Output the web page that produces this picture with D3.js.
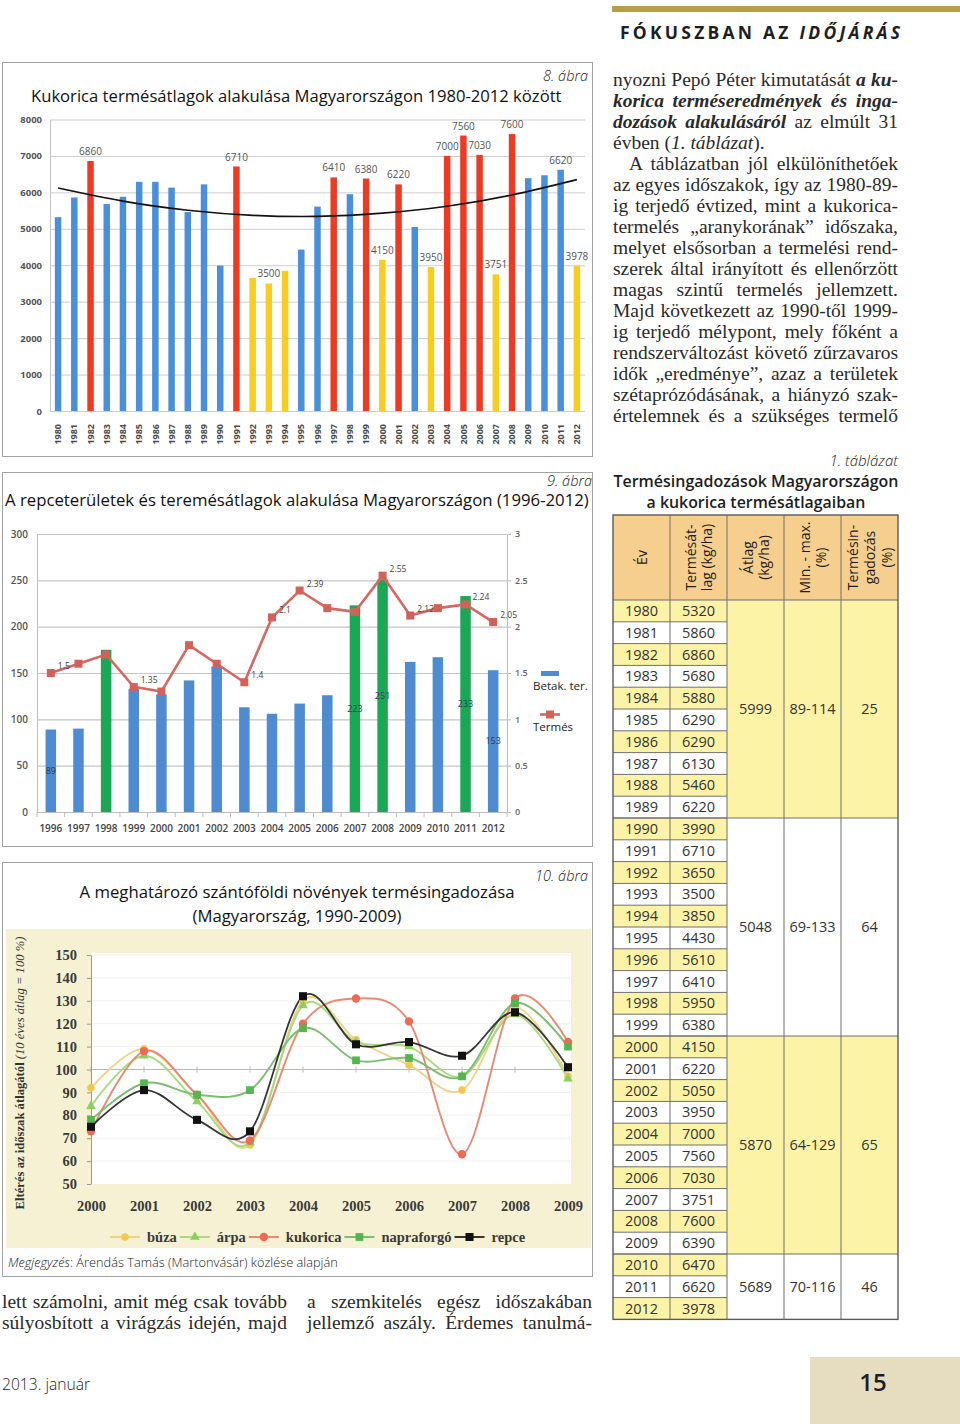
<!DOCTYPE html>
<html lang="hu"><head><meta charset="utf-8"><title>Kukorica termésátlagok</title>
<script src="https://cdn.jsdelivr.net/npm/d3@7/dist/d3.min.js"></script>
<style>html,body{margin:0;padding:0;background:#fff}svg{display:block}</style>
</head><body>
<svg id="page" width="960" height="1424" xmlns="http://www.w3.org/2000/svg"></svg>
<script>
// ================= DATA =================
// 8. ábra – Kukorica termésátlagok 1980-2012 (kg/ha)
const yearsA = [1980,1981,1982,1983,1984,1985,1986,1987,1988,1989,1990,1991,1992,1993,1994,1995,1996,1997,1998,1999,2000,2001,2002,2003,2004,2005,2006,2007,2008,2009,2010,2011,2012];
const yieldA = [5320,5860,6860,5680,5880,6290,6290,6130,5460,6220,3990,6710,3650,3500,3850,4430,5610,6410,5950,6380,4150,6220,5050,3950,7000,7560,7030,3751,7600,6390,6470,6620,3978];
const classA = ["n","n","h","n","n","n","n","n","n","n","n","h","l","l","l","n","n","h","n","h","l","h","n","l","h","h","h","l","h","n","n","n","l"];
const labelYearsA = [1982,1991,1993,1997,1999,2000,2001,2003,2004,2005,2006,2007,2008,2011,2012];
const yTicksA = [0,1000,2000,3000,4000,5000,6000,7000,8000];
const trendYearsA = [1980,1984,1988,1992,1996,2000,2004,2008,2012];
const trendValsA = [6120,5760,5510,5370,5340,5430,5620,5930,6350];
const titleA = "Kukorica termésátlagok alakulása Magyarországon 1980-2012 között";

// 9. ábra – repce: betakarított terület (ezer ha) és termésátlag (t/ha)
const yearsB = [1996,1997,1998,1999,2000,2001,2002,2003,2004,2005,2006,2007,2008,2009,2010,2011,2012];
const areaB = [89,90,175,133,127,142,157,113,106,117,126,223,251,162,167,233,153];
const greenYearsB = [1998,2007,2008,2011];
const areaLabelYearsB = [1996,2007,2008,2011,2012];
const yieldB = [1.5,1.6,1.7,1.35,1.3,1.8,1.6,1.4,2.1,2.39,2.2,2.16,2.55,2.12,2.2,2.24,2.05];
const yieldLabelsB = ["1.5",null,null,"1.35",null,null,null,"1.4","2.1","2.39",null,null,"2.55","2.12",null,"2.24","2.05"];
const leftTicksB = [0,50,100,150,200,250,300];
const rightTicksB = [0,0.5,1,1.5,2,2.5,3];
const titleB = "A repceterületek és teremésátlagok alakulása Magyarországon (1996-2012)";
const legendB = ["Betak. ter.","Termés"];

// 10. ábra – termésingadozás (10 éves átlag = 100 %)
const yearsC = [2000,2001,2002,2003,2004,2005,2006,2007,2008,2009];
const buzaC = [92,109,89,67,130,113,102,91,127,97];
const arpaC = [84,106,86,68,128,112,110,97,124,96];
const kukoricaC = [73,108,89,69,120,131,121,63,131,112];
const napraforgoC = [78,94,89,91,118,104,105,97,129,110];
const repceC = [75,91,78,73,132,111,112,106,125,101];
const seriesNamesC = ["búza","árpa","kukorica","napraforgó","repce"];
const yTicksC = [50,60,70,80,90,100,110,120,130,140,150];
const titleC = ["A meghatározó szántóföldi növények termésingadozása","(Magyarország, 1990-2009)"];

// 1. táblázat
const groupStart = [1980,1990,2000,2010];
const groupEnd = [1989,1999,2009,2012];
const groupAvg = ["5999","5048","5870","5689"];
const groupMinMax = ["89-114","69-133","64-129","70-116"];
const groupFluct = ["25","64","65","46"];
const tableHead = [["Év"],["Termésát-","lag (kg/ha)"],["Átlag","(kg/ha)"],["Min. - max.","(%)"],["Termésin-","gadozás","(%)"]];

// ================= HELPERS =================
const SANS = "'Open Sans','Noto Sans',sans-serif";
const SERIF = "'Liberation Serif','DejaVu Serif',serif";
const svg = d3.select('#page');

function txt(parent, x, y, s, o = {}) {
  const t = parent.append('text').attr('x', x).attr('y', y)
    .attr('font-family', o.family || SANS).attr('font-size', o.size || 12)
    .attr('fill', o.fill || '#222');
  if (o.anchor) t.attr('text-anchor', o.anchor);
  if (o.weight) t.attr('font-weight', o.weight);
  if (o.style) t.attr('font-style', o.style);
  if (s != null) t.text(s);
  return t;
}
function rich(t, segs) {
  segs.forEach(([s, st]) => {
    const ts = t.append('tspan').text(s);
    if (st.includes('b')) ts.attr('font-weight', 'bold');
    if (st.includes('i')) ts.attr('font-style', 'italic');
  });
  return t;
}
function fitWidth(t, w) {
  const L = t.node().getComputedTextLength();
  t.attr('font-size', (parseFloat(t.attr('font-size')) * w / L).toFixed(2));
  return t;
}
function justify(t, w) {
  const n = t.node(); const L = n.getComputedTextLength();
  const sp = (n.textContent.match(/ /g) || []).length;
  if (sp) t.attr('word-spacing', ((w - L) / sp).toFixed(2));
  return t;
}
function spread(t, w) {
  const n = t.node(); const L = n.getComputedTextLength();
  const c = n.textContent.length;
  t.attr('letter-spacing', ((w - L) / (c - 1)).toFixed(2));
  return t;
}
function styleAxisText(sel, o) {
  sel.selectAll('.tick text').attr('font-family', o.family || SANS).attr('font-size', o.size)
    .attr('font-weight', o.weight || 400).attr('fill', o.fill || '#444');
}

// ================= CHART 8 =================
(function () {
  const g = svg.append('g');
  g.append('rect').attr('x', 2.5).attr('y', 62.5).attr('width', 590).attr('height', 394)
    .attr('fill', '#fff').attr('stroke', '#a3a3a3');
  txt(g, 588, 81, '8. ábra', { anchor: 'end', style: 'italic', size: 14.5, weight: 300 });
  fitWidth(txt(g, 31, 102, titleA, { size: 16, fill: '#111' }), 531);

  const x = d3.scaleBand().domain(yearsA).range([50, 585]).paddingInner(0.6).paddingOuter(0.3);
  const y = d3.scaleLinear().domain([0, 8000]).range([411, 119.5]);
  const colors = { n: '#4a8fd9', h: '#ee3a22', l: '#f8cd1f' };

  const ax = g.append('g').attr('transform', 'translate(50,0)')
    .call(d3.axisLeft(y).tickValues(yTicksA).tickSize(-535).tickSizeOuter(0).tickPadding(8).tickFormat(d3.format('d')));
  ax.select('.domain').attr('stroke', '#c4c4c4');
  ax.selectAll('.tick line').attr('stroke', '#cdcdcd');
  styleAxisText(ax, { size: 9.5, weight: 700, fill: '#555' });

  const bx = g.append('g').attr('transform', 'translate(0,411)')
    .call(d3.axisBottom(x).tickSize(0).tickSizeOuter(0));
  bx.select('.domain').remove();
  styleAxisText(bx, { size: 9, weight: 700, fill: '#4a4a4a' });
  bx.selectAll('.tick text').attr('transform', 'rotate(-90)').attr('x', -13).attr('y', 0)
    .attr('dy', '0.35em').attr('text-anchor', 'end');

  g.append('g').selectAll('rect').data(yearsA).join('rect')
    .attr('x', d => x(d)).attr('width', x.bandwidth())
    .attr('y', (d, i) => y(yieldA[i])).attr('height', (d, i) => y(0) - y(yieldA[i]))
    .attr('fill', (d, i) => colors[classA[i]]);

  g.append('path').datum(trendYearsA.map((yr, i) => [x(yr) + x.bandwidth() / 2, y(trendValsA[i])]))
    .attr('d', d3.line().curve(d3.curveNatural)).attr('fill', 'none').attr('stroke', '#111').attr('stroke-width', 1.6);

  g.append('g').selectAll('text').data(labelYearsA).join('text')
    .attr('x', d => x(d) + x.bandwidth() / 2)
    .attr('y', d => y(yieldA[yearsA.indexOf(d)]) - 6)
    .attr('text-anchor', 'middle').attr('font-family', SANS).attr('font-size', 10)
    .attr('fill', '#555').text(d => yieldA[yearsA.indexOf(d)]);
})();

// ================= CHART 9 =================
(function () {
  const g = svg.append('g');
  g.append('rect').attr('x', 2.5).attr('y', 472.5).attr('width', 590).attr('height', 374)
    .attr('fill', '#fff').attr('stroke', '#a3a3a3');
  txt(g, 592, 486, '9. ábra', { anchor: 'end', style: 'italic', size: 14.5, weight: 300 });
  fitWidth(txt(g, 5, 506, titleB, { size: 16, fill: '#111' }), 584);

  const x = d3.scaleBand().domain(yearsB).range([37, 507]).paddingInner(0.62).paddingOuter(0.31);
  const yL = d3.scaleLinear().domain([0, 300]).range([812, 534]);
  const yR = d3.scaleLinear().domain([0, 3]).range([812, 534]);

  const ax = g.append('g').attr('transform', 'translate(37,0)')
    .call(d3.axisLeft(yL).tickValues(leftTicksB).tickSize(-470).tickSizeOuter(0).tickPadding(9));
  ax.select('.domain').attr('stroke', '#bdbdbd');
  ax.selectAll('.tick line').attr('stroke', '#c6c6c6').attr('stroke-width', 1.2);
  styleAxisText(ax, { size: 10, weight: 600, fill: '#555' });

  const ar = g.append('g').attr('transform', 'translate(507,0)')
    .call(d3.axisRight(yR).tickValues(rightTicksB).tickSize(4).tickSizeOuter(0).tickPadding(4).tickFormat(d3.format('~g')));
  ar.select('.domain').attr('stroke', '#bdbdbd');
  ar.selectAll('.tick line').attr('stroke', '#bdbdbd');
  styleAxisText(ar, { size: 9, weight: 600, fill: '#666' });

  const bx = g.append('g').attr('transform', 'translate(0,812)')
    .call(d3.axisBottom(x).tickSize(0).tickSizeOuter(0).tickPadding(13));
  bx.select('.domain').attr('stroke', '#bdbdbd');
  styleAxisText(bx, { size: 10, weight: 600, fill: '#444' });
  const step = x.step();
  g.append('g').selectAll('line').data(yearsB.concat([null])).join('line')
    .attr('x1', (d, i) => x(yearsB[0]) - step * 0.31 + i * step)
    .attr('x2', (d, i) => x(yearsB[0]) - step * 0.31 + i * step)
    .attr('y1', 812).attr('y2', 817).attr('stroke', '#bdbdbd');

  g.append('g').selectAll('rect').data(yearsB).join('rect')
    .attr('x', d => x(d)).attr('width', x.bandwidth())
    .attr('y', (d, i) => yL(areaB[i])).attr('height', (d, i) => yL(0) - yL(areaB[i]))
    .attr('fill', d => greenYearsB.includes(d) ? '#1aa857' : '#4f8bd0');

  g.append('g').selectAll('text').data(areaLabelYearsB).join('text')
    .attr('x', d => x(d) + x.bandwidth() / 2)
    .attr('y', d => (yL(areaB[yearsB.indexOf(d)]) + yL(0)) / 2 + 3)
    .attr('text-anchor', 'middle').attr('font-family', SANS).attr('font-size', 9)
    .attr('fill', '#2d3a55').text(d => areaB[yearsB.indexOf(d)]);

  const cx = d => x(d) + x.bandwidth() / 2;
  g.append('path').datum(yearsB.map((d, i) => [cx(d), yR(yieldB[i])]))
    .attr('d', d3.line()).attr('fill', 'none').attr('stroke', '#d56861').attr('stroke-width', 2.6);
  g.append('g').selectAll('rect').data(yearsB).join('rect')
    .attr('x', d => cx(d) - 4).attr('y', (d, i) => yR(yieldB[i]) - 4)
    .attr('width', 8).attr('height', 8).attr('fill', '#d4605a');
  g.append('g').selectAll('text').data(yearsB.filter((d, i) => yieldLabelsB[i])).join('text')
    .attr('x', d => cx(d) + 7)
    .attr('y', d => yR(yieldB[yearsB.indexOf(d)]) - 4)
    .attr('font-family', SANS).attr('font-size', 8.5).attr('fill', '#444')
    .text(d => yieldLabelsB[yearsB.indexOf(d)]);

  // legend
  g.append('rect').attr('x', 541).attr('y', 671).attr('width', 18).attr('height', 5).attr('fill', '#4f8bd0');
  txt(g, 533, 690, legendB[0], { size: 11.5, fill: '#222' });
  g.append('line').attr('x1', 540).attr('x2', 560).attr('y1', 714.5).attr('y2', 714.5).attr('stroke', '#d56861').attr('stroke-width', 2.6);
  g.append('rect').attr('x', 546).attr('y', 710.5).attr('width', 8).attr('height', 8).attr('fill', '#d4605a');
  txt(g, 533, 731, legendB[1], { size: 11.5, fill: '#222' });
})();

// ================= CHART 10 =================
(function () {
  const g = svg.append('g');
  g.append('rect').attr('x', 2.5).attr('y', 862.5).attr('width', 590).attr('height', 414)
    .attr('fill', '#fff').attr('stroke', '#a3a3a3');
  txt(g, 588, 881, '10. ábra', { anchor: 'end', style: 'italic', size: 14.5, weight: 300 });
  fitWidth(txt(g, 297, 898, titleC[0], { size: 16, fill: '#111', anchor: 'middle' }), 435);
  fitWidth(txt(g, 297, 922, titleC[1], { size: 16, fill: '#111', anchor: 'middle' }), 209);

  g.append('rect').attr('x', 6).attr('y', 929).attr('width', 585).attr('height', 319).attr('fill', '#f5f1d2');
  g.append('rect').attr('x', 91).attr('y', 953).attr('width', 480).attr('height', 231).attr('fill', '#fff');

  const x = d3.scalePoint().domain(yearsC).range([91, 568]);
  const y = d3.scaleLinear().domain([50, 150]).range([1184, 955]);

  g.append('g').selectAll('line').data(yTicksC.filter(v => v > 50 && v !== 100)).join('line')
    .attr('x1', 91).attr('x2', 570).attr('y1', d => y(d)).attr('y2', d => y(d)).attr('stroke', '#f1f1ec');
  g.append('line').attr('x1', 91).attr('x2', 570).attr('y1', y(100)).attr('y2', y(100)).attr('stroke', '#b9b9c4').attr('stroke-width', 1.2);
  g.append('g').selectAll('line').data(yearsC).join('line')
    .attr('x1', d => x(d)).attr('x2', d => x(d)).attr('y1', y(100) - 3).attr('y2', y(100) + 3).attr('stroke', '#b9b9c4');

  const ax = g.append('g').attr('transform', 'translate(91,0)')
    .call(d3.axisLeft(y).tickValues(yTicksC).tickSize(4).tickSizeOuter(0).tickPadding(10));
  ax.select('.domain').attr('stroke', '#9a9a9a');
  ax.selectAll('.tick line').attr('stroke', '#9a9a9a');
  styleAxisText(ax, { family: SERIF, size: 14.5, weight: 700, fill: '#3a3a3a' });

  const bx = g.append('g').attr('transform', 'translate(0,1184)')
    .call(d3.axisBottom(x).tickSize(0).tickSizeOuter(0).tickPadding(17));
  bx.select('.domain').remove();
  styleAxisText(bx, { family: SERIF, size: 14.5, weight: 700, fill: '#3a3a3a' });

  // y axis title
  const yt = g.append('text').attr('transform', 'translate(24,1073) rotate(-90)')
    .attr('text-anchor', 'middle').attr('font-family', SERIF).attr('font-size', 13).attr('fill', '#333');
  rich(yt, [['Eltérés az időszak átlagától ', 'b'], ['(10 éves átlag = 100 %)', 'i']]);
  fitWidth(yt, 273);

  const seriesC = [buzaC, arpaC, kukoricaC, napraforgoC, repceC];
  const lineCol = ['#ebd37e', '#a8d67c', '#e9836c', '#74bb68', '#2a2a2a'];
  const markCol = ['#f0c94e', '#8dcf5e', '#ee6a52', '#55b54f', '#111111'];
  const markSym = [d3.symbolCircle, d3.symbolTriangle, d3.symbolCircle, d3.symbolSquare, d3.symbolSquare];
  const markSize = [45, 40, 55, 60, 65];
  const line = d3.line().curve(d3.curveCatmullRom.alpha(0));

  seriesC.forEach((vals, s) => {
    const pts = yearsC.map((d, i) => [x(d), y(vals[i])]);
    g.append('path').datum(pts).attr('d', line).attr('fill', 'none')
      .attr('stroke', lineCol[s]).attr('stroke-width', s === 4 ? 1.8 : 1.9).attr('opacity', 0.95);
  });
  seriesC.forEach((vals, s) => {
    g.append('g').selectAll('path').data(yearsC).join('path')
      .attr('transform', (d, i) => `translate(${x(d)},${y(vals[i])})`)
      .attr('d', d3.symbol().type(markSym[s]).size(markSize[s])).attr('fill', markCol[s]);
  });

  // legend
  let lx = 110;
  const ly = 1237;
  seriesNamesC.forEach((name, s) => {
    g.append('line').attr('x1', lx).attr('x2', lx + 30).attr('y1', ly).attr('y2', ly)
      .attr('stroke', lineCol[s]).attr('stroke-width', 1.9);
    g.append('path').attr('transform', `translate(${lx + 15},${ly})`)
      .attr('d', d3.symbol().type(markSym[s]).size(markSize[s])).attr('fill', markCol[s]);
    const t = txt(g, lx + 37, ly + 5, name, { family: SERIF, size: 14.5, weight: 700, fill: '#3a3a3a' });
    lx = lx + 37 + t.node().getComputedTextLength() + 3;
  });

  const note = txt(g, 8, 1267, null, { size: 12.5, weight: 300, fill: '#222' });
  rich(note, [['Megjegyzés', 'i'], [': Árendás Tamás (Martonvásár) közlése alapján', '']]);
  fitWidth(note, 330);
})();

// ================= RIGHT COLUMN: header + text =================
(function () {
  const g = svg.append('g');
  g.append('rect').attr('x', 612).attr('y', 6).attr('width', 348).attr('height', 6).attr('fill', '#b89f45');
  const h = txt(g, 620, 39, null, { size: 17.5, weight: 700, fill: '#1e1e1e' });
  rich(h, [['FÓKUSZBAN AZ ', ''], ['IDŐJÁRÁS', 'i']]);
  spread(h, 280);

  const BODY = 19.5;
  const lines = [
    [[['nyozni Pepó Péter kimutatását ', ''], ['a ku-', 'bi']], true, 0],
    [[['korica terméseredmények és inga-', 'bi']], true, 0],
    [[['dozások alakulásáról', 'bi'], [' az elmúlt 31', '']], true, 0],
    [[['évben (', ''], ['1. táblázat', 'i'], [').', '']], false, 0],
    [[['A táblázatban jól elkülöníthetőek', '']], true, 16],
    [[['az egyes időszakok, így az 1980-89-', '']], true, 0],
    [[['ig terjedő évtized, mint a kukorica-', '']], true, 0],
    [[['termelés „aranykorának” időszaka,', '']], true, 0],
    [[['melyet elsősorban a termelési rend-', '']], true, 0],
    [[['szerek által irányított és ellenőrzött', '']], true, 0],
    [[['magas szintű termelés jellemzett.', '']], true, 0],
    [[['Majd következett az 1990-től 1999-', '']], true, 0],
    [[['ig terjedő mélypont, mely főként a', '']], true, 0],
    [[['rendszerváltozást követő zűrzavaros', '']], true, 0],
    [[['idők „eredménye”, azaz a területek', '']], true, 0],
    [[['szétaprózódásának, a hiányzó szak-', '']], true, 0],
    [[['értelemnek és a szükséges termelő', '']], true, 0]
  ];
  lines.forEach(([segs, just, ind], i) => {
    const t = txt(g, 613 + ind, 86 + i * 21, null, { family: SERIF, size: BODY, fill: '#2a2a2a' });
    rich(t, segs);
    if (just) justify(t, 285 - ind);
  });

  const bottom = [
    [2, 1308, 'lett számolni, amit még csak tovább'],
    [2, 1329, 'súlyosbított a virágzás idején, majd'],
    [307, 1308, 'a szemkitelés egész időszakában'],
    [307, 1329, 'jellemző aszály. Érdemes tanulmá-']
  ];
  bottom.forEach(([bx, by, s]) => {
    justify(txt(g, bx, by, s, { family: SERIF, size: BODY, fill: '#2a2a2a' }), 285);
  });

  fitWidth(txt(g, 2, 1390, '2013. január', { size: 15, weight: 300, fill: '#222' }), 88);
  g.append('rect').attr('x', 810).attr('y', 1357).attr('width', 150).attr('height', 67).attr('fill', '#e6dcc0');
  txt(g, 873, 1391, '15', { size: 24, weight: 600, fill: '#1e1e1e', anchor: 'middle' });
})();

// ================= TABLE =================
(function () {
  const g = svg.append('g');
  txt(g, 898, 466, '1. táblázat', { anchor: 'end', style: 'italic', size: 15, weight: 300, fill: '#222' });
  fitWidth(txt(g, 756, 487, 'Termésingadozások Magyarországon', { size: 15.5, weight: 600, anchor: 'middle', fill: '#1e1e1e' }), 285);
  fitWidth(txt(g, 756, 508, 'a kukorica termésátlagaiban', { size: 15.5, weight: 600, anchor: 'middle', fill: '#1e1e1e' }), 219);

  const colX = [613, 670, 727, 784, 841, 898];
  const headTop = 515, rowTop = 600, rowH = 21.8;
  const ry = d3.scaleLinear().domain([0, yearsA.length]).range([rowTop, rowTop + rowH * yearsA.length]);
  const bottomY = ry(yearsA.length);
  const yellow = '#fdf3a6', head = '#f6cf8f', lineC = '#6f6f6f';

  g.append('rect').attr('x', colX[0]).attr('y', headTop).attr('width', colX[5] - colX[0]).attr('height', rowTop - headTop).attr('fill', head);
  g.append('g').selectAll('rect').data(yearsA).join('rect')
    .attr('x', colX[0]).attr('y', (d, i) => ry(i)).attr('width', colX[2] - colX[0]).attr('height', rowH)
    .attr('fill', (d, i) => i % 2 === 0 ? yellow : '#fff');
  g.append('g').selectAll('rect').data(groupStart).join('rect')
    .attr('x', colX[2]).attr('width', colX[5] - colX[2])
    .attr('y', (d, i) => ry(yearsA.indexOf(d)))
    .attr('height', (d, i) => ry(yearsA.indexOf(groupEnd[i]) + 1) - ry(yearsA.indexOf(d)))
    .attr('fill', (d, i) => i % 2 === 0 ? yellow : '#fff');

  g.append('g').selectAll('line').data(d3.range(1, yearsA.length)).join('line')
    .attr('x1', colX[0]).attr('x2', colX[2]).attr('y1', i => ry(i)).attr('y2', i => ry(i))
    .attr('stroke', lineC).attr('stroke-width', 1);
  g.append('g').selectAll('line').data(groupStart).join('line')
    .attr('x1', colX[0]).attr('x2', colX[5])
    .attr('y1', d => ry(yearsA.indexOf(d))).attr('y2', d => ry(yearsA.indexOf(d)))
    .attr('stroke', lineC).attr('stroke-width', 1);
  g.append('g').selectAll('line').data(colX.slice(1, 5)).join('line')
    .attr('x1', d => d).attr('x2', d => d).attr('y1', headTop).attr('y2', bottomY)
    .attr('stroke', lineC).attr('stroke-width', 1);
  g.append('rect').attr('x', colX[0]).attr('y', headTop).attr('width', colX[5] - colX[0]).attr('height', bottomY - headTop)
    .attr('fill', 'none').attr('stroke', '#5a5a5a').attr('stroke-width', 1.4);

  tableHead.forEach((ls, c) => {
    const cx = (colX[c] + colX[c + 1]) / 2, cy = (headTop + rowTop) / 2;
    ls.forEach((s, j) => {
      const off = (j - (ls.length - 1) / 2) * 16.8;
      g.append('text').attr('transform', `translate(${cx + off},${cy}) rotate(-90)`)
        .attr('text-anchor', 'middle').attr('dominant-baseline', 'central')
        .attr('font-family', SANS).attr('font-size', 14).attr('font-weight', 500).attr('fill', '#1e1e1e').text(s);
    });
  });

  g.append('g').selectAll('text').data(yearsA).join('text')
    .attr('x', (colX[0] + colX[1]) / 2).attr('y', (d, i) => ry(i) + rowH / 2 + 5)
    .attr('text-anchor', 'middle').attr('font-family', SANS).attr('font-size', 14.5).attr('fill', '#333').text(d => d);
  g.append('g').selectAll('text').data(yieldA).join('text')
    .attr('x', (colX[1] + colX[2]) / 2).attr('y', (d, i) => ry(i) + rowH / 2 + 5)
    .attr('text-anchor', 'middle').attr('font-family', SANS).attr('font-size', 14.5).attr('fill', '#333').text(d => d);
  [groupAvg, groupMinMax, groupFluct].forEach((arr, k) => {
    g.append('g').selectAll('text').data(arr).join('text')
      .attr('x', (colX[2 + k] + colX[3 + k]) / 2)
      .attr('y', (d, i) => (ry(yearsA.indexOf(groupStart[i])) + ry(yearsA.indexOf(groupEnd[i]) + 1)) / 2 + 5)
      .attr('text-anchor', 'middle').attr('font-family', SANS).attr('font-size', 14.5).attr('fill', '#333').text(d => d);
  });
})();
</script>
</body></html>
